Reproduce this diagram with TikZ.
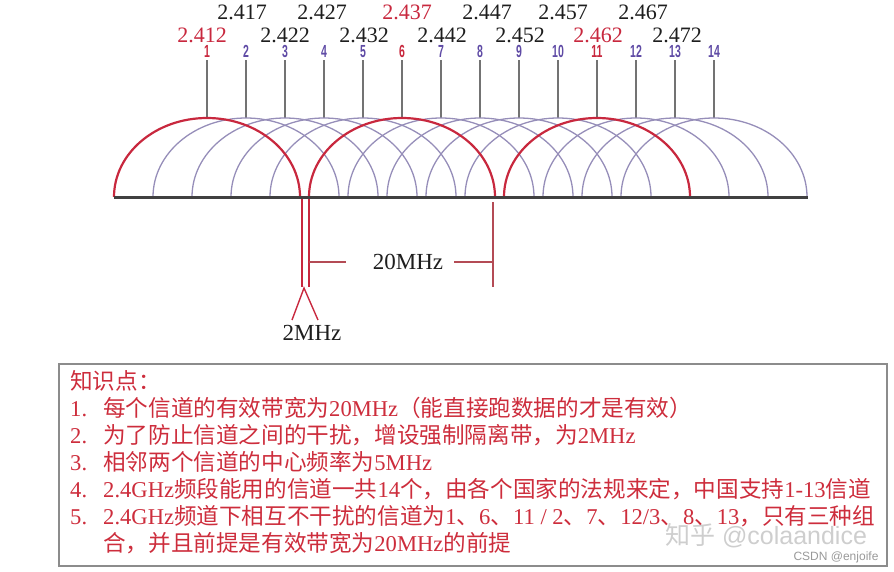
\documentclass[tikz,border=0pt]{standalone}
\usepackage{fontspec}
\setmainfont{Liberation Serif}
\newfontfamily\cjk{Noto Sans CJK SC}
\newfontfamily\chfont[FakeStretch=0.6]{Liberation Sans}
\newfontfamily\wmfont{Liberation Sans}
\usetikzlibrary{positioning}
\definecolor{bandred}{RGB}{200,40,62}
\definecolor{chpurple}{RGB}{95,75,165}
\definecolor{arcpurple}{RGB}{150,142,185}
\definecolor{tickgray}{RGB}{115,115,115}
\definecolor{freqblack}{RGB}{30,30,30}
\definecolor{notered}{RGB}{205,45,60}
\definecolor{dimred}{RGB}{180,75,85}
\definecolor{boxgray}{RGB}{140,140,140}

\begin{document}
\begin{tikzpicture}[x=1pt, y=-1pt,
  chnum/.style={anchor=base, inner sep=0pt, font=\chfont\bfseries\fontsize{17.5}{17.5}\selectfont},
  freq/.style={anchor=base, inner sep=0pt, font=\fontsize{22}{22}\selectfont},
  tickline/.style={draw=tickgray, line width=1.5pt},
  band/.style={draw=arcpurple, line width=1.3pt},
  mainband/.style={draw=bandred, line width=2.2pt},
  axisline/.style={draw=black!75, line width=3pt},
  gapline/.style={draw=bandred, line width=1.4pt},
  dimline/.style={draw=dimred, line width=1.2pt},
  dimlabel/.style={inner sep=0pt, text=freqblack, font=\fontsize{23}{23}\selectfont},
  note/.style={anchor=base west, inner sep=0pt, text=notered, font=\fontsize{22.6}{22.6}\selectfont},
  notebox/.style={draw=boxgray, line width=1.6pt}]
  \useasboundingbox (0,0) rectangle (894,571);

  % channel numbers, ticks and bands
  \foreach \i in {2,3,4,5,7,8,9,10,12,13,14} {
    \pgfmathsetmacro\cx{207+39*(\i-1)}
    \node[chnum, text=chpurple] (ch\i) at (\cx,57) {\i};
    \draw[tickline] (ch\i.base) ++(0,3) -- ++(0,58);
    \draw[band] (\cx-93,197) arc[start angle=180, end angle=0, x radius=93pt, y radius=79pt];
  }
  \foreach \i in {1,6,11} {
    \pgfmathsetmacro\cx{207+39*(\i-1)}
    \node[chnum, text=bandred] (ch\i) at (\cx,57) {\i};
    \draw[tickline] (ch\i.base) ++(0,3) -- ++(0,58);
    \draw[mainband] (\cx-93,197) arc[start angle=180, end angle=0, x radius=93pt, y radius=79pt];
  }
  \coordinate (axl) at (114,197);
  \coordinate (axr) at (808,197);
  \draw[axisline] (axl) -- (axr);

  % centre frequencies
  \foreach \x/\f/\c in {242/2.417/freqblack, 322/2.427/freqblack, 407/2.437/bandred,
                        487/2.447/freqblack, 563/2.457/freqblack, 643/2.467/freqblack}
    \node[freq, text=\c] at (\x,19.5) {\f};
  \foreach \x/\f/\c in {202/2.412/bandred, 285/2.422/freqblack, 364/2.432/freqblack,
                        442/2.442/freqblack, 520/2.452/freqblack, 598/2.462/bandred,
                        677/2.472/freqblack}
    \node[freq, text=\c] at (\x,42) {\f};

  % guard band and channel width
  \coordinate (ga) at (302,199);
  \coordinate (gb) at (309,199);
  \coordinate (gc) at (493,202);
  \draw[gapline] (ga) -- ++(0,88);
  \draw[gapline] (gb) -- ++(0,88);
  \coordinate (apex) at (304,288);
  \draw[gapline] (292,320) -- (apex) -- (318,320);
  \node[dimlabel] (gw) at (312,333) {2MHz};
  \node[dimlabel] (bw) at (408,262) {20MHz};
  \draw[dimline] (gb |- bw) -- ([xshift=-27pt]bw.west);
  \draw[dimline] ([xshift=11pt]bw.east) -- (gc |- bw);
  \draw[dimline] (gc) -- ++(0,85);

  % notes
  \draw[notebox] (59,364) rectangle (887,566);
  \node[note] (kp) at (70,389.5) {\cjk 知识点：};
  \node[note] (n1) at (70,416.5) {1.};
  \node[note] (t1) at (103,416.5) {{\cjk 每个信道的有效带宽为}20MHz{\cjk （能直接跑数据的才是有效）}};
  \node[note] (n2) at (70,443.5) {2.};
  \node[note] (t2) at (103,443.5) {{\cjk 为了防止信道之间的干扰，增设强制隔离带，为}2MHz};
  \node[note] (n3) at (70,470) {3.};
  \node[note] (t3) at (103,470) {{\cjk 相邻两个信道的中心频率为}5MHz};
  \node[note] (n4) at (70,497) {4.};
  \node[note] (t4) at (103,497) {2.4GHz{\cjk 频段能用的信道一共}14{\cjk 个，由各个国家的法规来定，中国支持}1-13{\cjk 信道}};
  \node[note] (n5) at (70,524) {5.};
  \node[note] (t5) at (103,524) {2.4GHz{\cjk 频道下相互不干扰的信道为}1{\cjk 、}6{\cjk 、}11 / 2{\cjk 、}7{\cjk 、}12/3{\cjk 、}8{\cjk 、}13{\cjk ，只有三种组}};
  \node[note] (t6) at (103,551) {{\cjk 合，并且前提是有效带宽为}20MHz{\cjk 的前提}};

  % watermarks
  \node[inner sep=0pt, text=gray!55, text opacity=0.7, font=\wmfont\fontsize{25}{25}\selectfont] (wm) at (766,536) {{\cjk 知乎} @colaandice};
  \node[inner sep=0pt, text=gray!80, font=\wmfont\fontsize{12}{12}\selectfont] (csdn) at (836,557) {CSDN @enjoife};
\end{tikzpicture}
\end{document}
